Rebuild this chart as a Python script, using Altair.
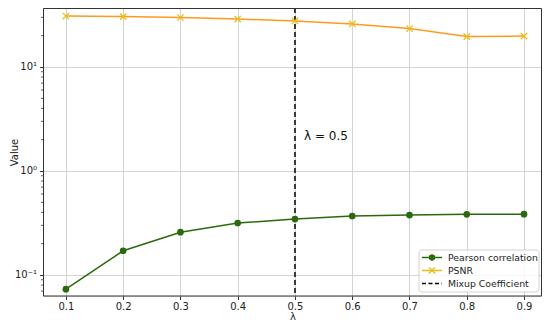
import altair as alt
import pandas as pd

lam = [0.1, 0.2, 0.3, 0.4, 0.5, 0.6, 0.7, 0.8, 0.9]
pearson = [0.073, 0.171, 0.258, 0.316, 0.345, 0.369, 0.377, 0.383, 0.384]
psnr = [30.9, 30.5, 29.9, 28.9, 27.7, 25.9, 23.4, 19.6, 19.8]
mixup = 0.5
legend_labels = ["Pearson correlation", "PSNR", "Mixup Coefficient"]
minor_ticks = [0.07, 0.08, 0.09, 0.2, 0.3, 0.4, 0.5, 0.6, 0.7, 0.8, 0.9,
               2, 3, 4, 5, 6, 7, 8, 9, 20, 30]

GREEN = "#2b6a0c"
ORANGE = "#ff9a1f"
GOLD = "#e8bf10"
FONT = "DejaVu Sans"

W, H = 499, 288

df = pd.DataFrame({"lam": lam, "pearson": pearson, "psnr": psnr})

xs = alt.Scale(domain=[0.06, 0.9314], nice=False, zero=False)
ys = alt.Scale(type="log", domain=[0.0628, 36.9], nice=False, clamp=True)

xaxis = alt.Axis(values=lam, format=".1f", title="λ", grid=True, gridColor="#d3d3d3",
                 gridWidth=1, tickColor="#333", tickSize=3.5, labelFontSize=10,
                 labelColor="#222", titleFontSize=10, titleFontWeight="normal",
                 titleColor="#222", labelPadding=2, titlePadding=0, domain=False,
                 labelFont=FONT, titleFont=FONT)
yaxis = alt.Axis(values=[0.1, 1, 10], title="Value", grid=True, gridColor="#d3d3d3",
                 gridWidth=1, tickColor="#333", tickSize=3.5, labelFontSize=10,
                 labelColor="#222", titleFontSize=10, titleFontWeight="normal",
                 titleColor="#222", labelPadding=3, domain=False, titleX=-24,
                 labelExpr="datum.value == 10 ? '10¹' : (datum.value == 1 ? '10⁰' : '10⁻¹')",
                 labelFont=FONT, titleFont=FONT)

base = alt.Chart(df)

grid_layer = base.mark_line(opacity=0).encode(
    x=alt.X("lam:Q", scale=xs, axis=xaxis),
    y=alt.Y("pearson:Q", scale=ys, axis=yaxis),
)

p_line = base.mark_line(color=GREEN, strokeWidth=1.5).encode(
    x=alt.X("lam:Q", scale=xs), y=alt.Y("pearson:Q", scale=ys))
p_pts = base.mark_point(color=GREEN, filled=True, opacity=1, size=45, shape="circle").encode(
    x=alt.X("lam:Q", scale=xs), y=alt.Y("pearson:Q", scale=ys))

xshape = "M-1,-1L1,1M-1,1L1,-1"
s_line = base.mark_line(color=ORANGE, strokeWidth=1.5).encode(
    x=alt.X("lam:Q", scale=xs), y=alt.Y("psnr:Q", scale=ys))
s_pts = base.mark_point(color=GOLD, filled=False, opacity=1, size=40, shape=xshape,
                        strokeWidth=1.3).encode(
    x=alt.X("lam:Q", scale=xs), y=alt.Y("psnr:Q", scale=ys))

vdf = pd.DataFrame({"lam": [mixup], "label": [f"λ = {mixup}"], "ty": [2.17]})
vrule = alt.Chart(vdf).mark_rule(color="black", strokeDash=[5, 3], strokeWidth=1.5).encode(
    x=alt.X("lam:Q", scale=xs))
vtext = alt.Chart(vdf).mark_text(align="left", baseline="middle", dx=9, fontSize=12,
                                 font=FONT, color="#111").encode(
    x=alt.X("lam:Q", scale=xs), y=alt.Y("ty:Q", scale=ys), text="label:N")

mdf = pd.DataFrame({"v": minor_ticks})
minor = alt.Chart(mdf).mark_rule(color="#333", strokeWidth=0.8).encode(
    y=alt.Y("v:Q", scale=ys), x=alt.value(-2), x2=alt.value(0))

# frame
frame = alt.Chart(vdf).mark_rect(fill=None, stroke="#333", strokeWidth=1).encode(
    x=alt.value(0.5), x2=alt.value(W - 0.5), y=alt.value(0.5), y2=alt.value(H))

# manual legend
ldf = pd.DataFrame({"label": legend_labels, "i": [0, 1, 2]})
lbox = alt.Chart(vdf).mark_rect(fill="white", opacity=0.85, stroke="#cccccc",
                                cornerRadius=3, strokeWidth=1).encode(
    x=alt.value(376), x2=alt.value(496), y=alt.value(242), y2=alt.value(284))
lbase = alt.Chart(ldf).transform_calculate(py="249.5 + 13 * datum.i")
l_green = lbase.transform_filter("datum.i == 0").mark_rule(color=GREEN, strokeWidth=1.5).encode(
    x=alt.value(379), x2=alt.value(399), y=alt.Y("py:Q", scale=None))
l_green_pt = lbase.transform_filter("datum.i == 0").mark_point(
    color=GREEN, filled=True, opacity=1, size=40, shape="circle").encode(
    x=alt.value(389), y=alt.Y("py:Q", scale=None))
l_psnr = lbase.transform_filter("datum.i == 1").mark_rule(color=GOLD, strokeWidth=1.5).encode(
    x=alt.value(379), x2=alt.value(399), y=alt.Y("py:Q", scale=None))
l_psnr_pt = lbase.transform_filter("datum.i == 1").mark_point(
    color=GOLD, filled=False, opacity=1, size=36, shape=xshape, strokeWidth=1.3).encode(
    x=alt.value(389), y=alt.Y("py:Q", scale=None))
l_mix = lbase.transform_filter("datum.i == 2").mark_rule(
    color="black", strokeDash=[4, 2.5], strokeWidth=1.5).encode(
    x=alt.value(379), x2=alt.value(399), y=alt.Y("py:Q", scale=None))
l_text = lbase.mark_text(align="left", baseline="middle", fontSize=9.3, font=FONT,
                         color="#222").encode(
    x=alt.value(405), y=alt.Y("py:Q", scale=None), text="label:N")

chart = alt.layer(
    grid_layer, minor, vrule, vtext, p_line, p_pts, s_line, s_pts, frame,
    lbox, l_green, l_green_pt, l_psnr, l_psnr_pt, l_mix, l_text
).properties(
    width=W, height=H,
    autosize=alt.AutoSizeParams(type="none"),
    padding={"left": 35, "top": 0, "right": 0, "bottom": 27},
).configure_view(stroke=None).configure(background="white")

chart.save("out.html", embed_options={"renderer": "svg", "actions": False})
